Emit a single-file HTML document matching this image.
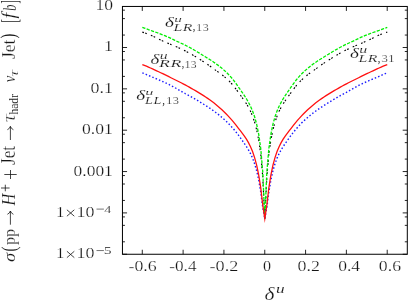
<!DOCTYPE html>
<html><head><meta charset="utf-8"><style>
html,body{margin:0;padding:0;background:#fff;}
svg{display:block}
text{font-family:"Liberation Serif",serif;fill:#151515;stroke:#fff;}
</style></head><body>
<svg width="409" height="300" viewBox="0 0 409 300">
<rect width="409" height="300" fill="#fff"/>
<g fill="none" stroke-linejoin="bevel" stroke-linecap="butt">
<path d="M142.34,32.10 L144.38,32.79 L146.42,33.52 L148.46,34.28 L150.50,35.08 L152.55,35.95 L154.59,36.91 L156.63,37.93 L158.67,38.96 L160.71,39.97 L162.75,40.92 L164.79,41.83 L166.83,42.73 L168.87,43.62 L170.91,44.49 L172.96,45.34 L175.00,46.19 L177.04,47.06 L179.08,47.96 L181.12,48.89 L183.16,49.86 L185.20,50.87 L187.24,51.92 L189.28,53.04 L191.32,54.19 L193.37,55.38 L195.41,56.61 L197.45,57.88 L199.49,59.17 L201.53,60.47 L203.57,61.78 L205.61,63.11 L207.65,64.49 L209.69,65.94 L211.73,67.43 L213.78,68.93 L215.82,70.40 L217.86,71.82 L219.90,73.25 L221.94,74.75 L223.98,76.36 L226.02,78.08 L228.06,79.95 L230.10,82.00 L232.14,84.26 L234.19,86.72 L236.23,89.38 L238.27,92.17 L240.31,95.02 L242.35,97.86 L244.39,100.72 L246.43,103.78 L248.47,107.24 L250.51,111.28 L252.55,116.13 L254.59,122.13 L256.64,129.75 L258.68,139.77 L260.72,153.95 L262.76,177.40 L264.80,218.70 L266.84,177.40 L268.88,153.95 L270.92,139.77 L272.96,129.75 L275.00,122.13 L277.05,116.13 L279.09,111.28 L281.13,107.24 L283.17,103.78 L285.21,100.72 L287.25,97.86 L289.29,95.02 L291.33,92.17 L293.37,89.38 L295.42,86.72 L297.46,84.26 L299.50,82.00 L301.54,79.95 L303.58,78.08 L305.62,76.36 L307.66,74.75 L309.70,73.25 L311.74,71.82 L313.78,70.40 L315.82,68.93 L317.87,67.43 L319.91,65.94 L321.95,64.49 L323.99,63.11 L326.03,61.78 L328.07,60.47 L330.11,59.17 L332.15,57.88 L334.19,56.61 L336.24,55.38 L338.28,54.19 L340.32,53.04 L342.36,51.92 L344.40,50.87 L346.44,49.86 L348.48,48.89 L350.52,47.96 L352.56,47.06 L354.60,46.19 L356.64,45.34 L358.69,44.49 L360.73,43.62 L362.77,42.73 L364.81,41.83 L366.85,40.92 L368.89,39.97 L370.93,38.96 L372.97,37.93 L375.01,36.91 L377.06,35.95 L379.10,35.08 L381.14,34.28 L383.18,33.52 L385.22,32.79 L387.26,32.10" stroke="#000" stroke-width="1.15" stroke-dasharray="1.7 1.3 1.7 4.4"/>
<path d="M142.34,27.34 L144.38,28.07 L146.42,28.84 L148.46,29.60 L150.50,30.33 L152.55,31.05 L154.59,31.77 L156.63,32.50 L158.67,33.26 L160.71,34.04 L162.75,34.85 L164.79,35.68 L166.83,36.54 L168.87,37.45 L170.91,38.42 L172.96,39.42 L175.00,40.41 L177.04,41.36 L179.08,42.28 L181.12,43.22 L183.16,44.17 L185.20,45.17 L187.24,46.21 L189.28,47.30 L191.32,48.42 L193.37,49.56 L195.41,50.74 L197.45,51.94 L199.49,53.18 L201.53,54.44 L203.57,55.72 L205.61,56.98 L207.65,58.24 L209.69,59.50 L211.73,60.81 L213.78,62.17 L215.82,63.60 L217.86,65.11 L219.90,66.70 L221.94,68.37 L223.98,70.13 L226.02,72.00 L228.06,74.01 L230.10,76.16 L232.14,78.49 L234.19,81.03 L236.23,83.80 L238.27,86.73 L240.31,89.67 L242.35,92.56 L244.39,95.55 L246.43,98.79 L248.47,102.34 L250.51,106.31 L252.55,110.95 L254.59,116.71 L256.64,124.16 L258.68,134.10 L260.72,148.29 L262.76,172.08 L264.80,218.70 L266.84,172.08 L268.88,148.29 L270.92,134.10 L272.96,124.16 L275.00,116.71 L277.05,110.95 L279.09,106.31 L281.13,102.34 L283.17,98.79 L285.21,95.55 L287.25,92.56 L289.29,89.67 L291.33,86.73 L293.37,83.80 L295.42,81.03 L297.46,78.49 L299.50,76.16 L301.54,74.01 L303.58,72.00 L305.62,70.13 L307.66,68.37 L309.70,66.70 L311.74,65.11 L313.78,63.60 L315.82,62.17 L317.87,60.81 L319.91,59.50 L321.95,58.24 L323.99,56.98 L326.03,55.72 L328.07,54.44 L330.11,53.18 L332.15,51.94 L334.19,50.74 L336.24,49.56 L338.28,48.42 L340.32,47.30 L342.36,46.21 L344.40,45.17 L346.44,44.17 L348.48,43.22 L350.52,42.28 L352.56,41.36 L354.60,40.41 L356.64,39.42 L358.69,38.42 L360.73,37.45 L362.77,36.54 L364.81,35.68 L366.85,34.85 L368.89,34.04 L370.93,33.26 L372.97,32.50 L375.01,31.77 L377.06,31.05 L379.10,30.33 L381.14,29.60 L383.18,28.84 L385.22,28.07 L387.26,27.34" stroke="#00ee00" stroke-width="1.3" stroke-dasharray="3.2 1.4"/>
<path d="M142.34,72.89 L144.38,73.67 L146.42,74.53 L148.46,75.42 L150.50,76.32 L152.55,77.21 L154.59,78.09 L156.63,78.95 L158.67,79.82 L160.71,80.70 L162.75,81.60 L164.79,82.51 L166.83,83.46 L168.87,84.45 L170.91,85.49 L172.96,86.58 L175.00,87.71 L177.04,88.86 L179.08,90.04 L181.12,91.22 L183.16,92.39 L185.20,93.51 L187.24,94.60 L189.28,95.71 L191.32,96.84 L193.37,97.99 L195.41,99.18 L197.45,100.40 L199.49,101.65 L201.53,102.93 L203.57,104.22 L205.61,105.51 L207.65,106.82 L209.69,108.16 L211.73,109.55 L213.78,111.00 L215.82,112.50 L217.86,114.06 L219.90,115.69 L221.94,117.40 L223.98,119.20 L226.02,121.10 L228.06,123.10 L230.10,125.22 L232.14,127.46 L234.19,129.81 L236.23,132.30 L238.27,134.94 L240.31,137.72 L242.35,140.61 L244.39,143.52 L246.43,146.55 L248.47,149.85 L250.51,153.62 L252.55,158.11 L254.59,163.65 L256.64,170.69 L258.68,179.81 L260.72,191.89 L262.76,207.54 L264.80,218.70 L266.84,207.54 L268.88,191.89 L270.92,179.81 L272.96,170.69 L275.00,163.65 L277.05,158.11 L279.09,153.62 L281.13,149.85 L283.17,146.55 L285.21,143.52 L287.25,140.61 L289.29,137.72 L291.33,134.94 L293.37,132.30 L295.42,129.81 L297.46,127.46 L299.50,125.22 L301.54,123.10 L303.58,121.10 L305.62,119.20 L307.66,117.40 L309.70,115.69 L311.74,114.06 L313.78,112.50 L315.82,111.00 L317.87,109.55 L319.91,108.16 L321.95,106.82 L323.99,105.51 L326.03,104.22 L328.07,102.93 L330.11,101.65 L332.15,100.40 L334.19,99.18 L336.24,97.99 L338.28,96.84 L340.32,95.71 L342.36,94.60 L344.40,93.51 L346.44,92.39 L348.48,91.22 L350.52,90.04 L352.56,88.86 L354.60,87.71 L356.64,86.58 L358.69,85.49 L360.73,84.45 L362.77,83.46 L364.81,82.51 L366.85,81.60 L368.89,80.70 L370.93,79.82 L372.97,78.95 L375.01,78.09 L377.06,77.21 L379.10,76.32 L381.14,75.42 L383.18,74.53 L385.22,73.67 L387.26,72.89" stroke="#1a1aff" stroke-width="1.4" stroke-dasharray="1.5 2.1"/>
<path d="M142.34,64.59 L144.38,65.36 L146.42,66.21 L148.46,67.10 L150.50,68.01 L152.55,68.93 L154.59,69.87 L156.63,70.83 L158.67,71.78 L160.71,72.74 L162.75,73.71 L164.79,74.68 L166.83,75.68 L168.87,76.69 L170.91,77.71 L172.96,78.73 L175.00,79.74 L177.04,80.74 L179.08,81.76 L181.12,82.79 L183.16,83.85 L185.20,84.94 L187.24,86.05 L189.28,87.18 L191.32,88.34 L193.37,89.51 L195.41,90.68 L197.45,91.88 L199.49,93.10 L201.53,94.36 L203.57,95.65 L205.61,96.99 L207.65,98.36 L209.69,99.79 L211.73,101.27 L213.78,102.82 L215.82,104.45 L217.86,106.15 L219.90,107.93 L221.94,109.79 L223.98,111.73 L226.02,113.76 L228.06,115.88 L230.10,118.09 L232.14,120.40 L234.19,122.82 L236.23,125.38 L238.27,128.03 L240.31,130.69 L242.35,133.33 L244.39,136.09 L246.43,139.14 L248.47,142.63 L250.51,146.70 L252.55,151.57 L254.59,157.58 L256.64,165.16 L258.68,174.87 L260.72,187.70 L262.76,204.98 L264.80,218.70 L266.84,204.98 L268.88,187.70 L270.92,174.87 L272.96,165.16 L275.00,157.58 L277.05,151.57 L279.09,146.70 L281.13,142.63 L283.17,139.14 L285.21,136.09 L287.25,133.33 L289.29,130.69 L291.33,128.03 L293.37,125.38 L295.42,122.82 L297.46,120.40 L299.50,118.09 L301.54,115.88 L303.58,113.76 L305.62,111.73 L307.66,109.79 L309.70,107.93 L311.74,106.15 L313.78,104.45 L315.82,102.82 L317.87,101.27 L319.91,99.79 L321.95,98.36 L323.99,96.99 L326.03,95.65 L328.07,94.36 L330.11,93.10 L332.15,91.88 L334.19,90.68 L336.24,89.51 L338.28,88.34 L340.32,87.18 L342.36,86.05 L344.40,84.94 L346.44,83.85 L348.48,82.79 L350.52,81.76 L352.56,80.74 L354.60,79.74 L356.64,78.73 L358.69,77.71 L360.73,76.69 L362.77,75.68 L364.81,74.68 L366.85,73.71 L368.89,72.74 L370.93,71.78 L372.97,70.83 L375.01,69.87 L377.06,68.93 L379.10,68.01 L381.14,67.10 L383.18,66.21 L385.22,65.36 L387.26,64.59" stroke="#ff1010" stroke-width="1.3" stroke-linejoin="miter" stroke-miterlimit="30"/>
</g>
<path d="M122.45,35.05h2.5 M407.3,35.05h-2.5 M122.45,18.60h2.5 M407.3,18.60h-2.5 M122.45,10.16h2.5 M407.3,10.16h-2.5 M122.45,47.50h4.6 M407.3,47.50h-4.6 M122.45,76.40h2.5 M407.3,76.40h-2.5 M122.45,59.95h2.5 M407.3,59.95h-2.5 M122.45,51.51h2.5 M407.3,51.51h-2.5 M122.45,88.85h4.6 M407.3,88.85h-4.6 M122.45,117.75h2.5 M407.3,117.75h-2.5 M122.45,101.30h2.5 M407.3,101.30h-2.5 M122.45,92.86h2.5 M407.3,92.86h-2.5 M122.45,130.20h4.6 M407.3,130.20h-4.6 M122.45,159.10h2.5 M407.3,159.10h-2.5 M122.45,142.65h2.5 M407.3,142.65h-2.5 M122.45,134.21h2.5 M407.3,134.21h-2.5 M122.45,171.55h4.6 M407.3,171.55h-4.6 M122.45,200.45h2.5 M407.3,200.45h-2.5 M122.45,184.00h2.5 M407.3,184.00h-2.5 M122.45,175.56h2.5 M407.3,175.56h-2.5 M122.45,212.90h4.6 M407.3,212.90h-4.6 M122.45,241.80h2.5 M407.3,241.80h-2.5 M122.45,225.35h2.5 M407.3,225.35h-2.5 M122.45,216.91h2.5 M407.3,216.91h-2.5 M122.45,254.25h4.6 M407.3,254.25h-4.6 M142.29,254.25v-4.5 M142.29,6.45v4.5 M183.11,254.25v-4.5 M183.11,6.45v4.5 M223.93,254.25v-4.5 M223.93,6.45v4.5 M264.75,254.25v-4.5 M264.75,6.45v4.5 M305.57,254.25v-4.5 M305.57,6.45v4.5 M346.39,254.25v-4.5 M346.39,6.45v4.5 M387.21,254.25v-4.5 M387.21,6.45v4.5 " stroke="#111" stroke-width="0.9" fill="none"/>
<rect x="122.45" y="6.45" width="284.85" height="247.8" fill="none" stroke="#000" stroke-width="1"/>
<path d="M66.9,209.80L74.3,216.20M74.3,209.80L66.9,216.20 M66.9,251.25L74.3,257.65M74.3,251.25L66.9,257.65 M10.4,224.7V211.0 M7.4,214.3Q9.8,213.2 10.4,211.0 Q11.0,213.2 13.4,214.3 M10.4,140.0V126.4 M7.4,129.70000000000002Q9.8,128.6 10.4,126.4 Q11.0,128.6 13.4,129.70000000000002 M10.5,170V179 M4.3,174.5H16.7 M5.3,184.7V191.3 M1.0,188H9.6 " stroke="#151515" stroke-width="0.8" fill="none"/>
<path d="M96.5,209.10H103.9 M96.5,250.55H103.9 " stroke="#151515" stroke-width="0.6" fill="none"/>
<g opacity="0.995"><g transform="translate(95.43,10.00) scale(1.257,1.027)"><text font-size="14" stroke-width="0.190" >10</text></g>
<g transform="translate(103.89,50.80) scale(1.284,0.995)"><text font-size="14" stroke-width="0.190" >1</text></g>
<g transform="translate(90.46,93.00) scale(1.281,1.081)"><text font-size="14" stroke-width="0.190" >0.1</text></g>
<g transform="translate(82.07,134.20) scale(1.257,1.081)"><text font-size="14" stroke-width="0.190" >0.01</text></g>
<g transform="translate(73.58,175.60) scale(1.247,1.092)"><text font-size="14" stroke-width="0.190" >0.001</text></g>
<g transform="translate(56.28,216.50) scale(1.137,1.027)"><text font-size="14" stroke-width="0.190" >1</text></g>
<g transform="translate(76.60,216.80) scale(1.282,1.092)"><text font-size="14" stroke-width="0.190" >10</text></g>
<g transform="translate(104.25,212.50) scale(1.400,1.000)"><text font-size="10" stroke-width="0.120" >4</text></g>
<g transform="translate(56.28,257.95) scale(1.137,1.027)"><text font-size="14" stroke-width="0.190" >1</text></g>
<g transform="translate(76.60,258.25) scale(1.282,1.092)"><text font-size="14" stroke-width="0.190" >10</text></g>
<g transform="translate(103.81,253.95) scale(1.575,1.000)"><text font-size="10" stroke-width="0.120" >5</text></g>
<g transform="translate(128.56,270.90) scale(1.271,1.038)"><text font-size="14" stroke-width="0.190" >-0.6</text></g>
<g transform="translate(169.29,270.90) scale(1.228,1.038)"><text font-size="14" stroke-width="0.190" >-0.4</text></g>
<g transform="translate(209.55,270.90) scale(1.301,1.038)"><text font-size="14" stroke-width="0.190" >-0.2</text></g>
<g transform="translate(263.12,270.90) scale(1.150,1.038)"><text font-size="14" stroke-width="0.190" >0</text></g>
<g transform="translate(297.46,270.90) scale(1.280,1.038)"><text font-size="14" stroke-width="0.190" >0.2</text></g>
<g transform="translate(338.17,270.90) scale(1.254,1.038)"><text font-size="14" stroke-width="0.190" >0.4</text></g>
<g transform="translate(378.87,270.90) scale(1.267,1.038)"><text font-size="14" stroke-width="0.190" >0.6</text></g>
<g transform="translate(164.92,26.80) scale(1.360,1.097)"><text font-size="14" font-style="italic" stroke-width="0.110" >δ</text></g>
<g transform="translate(174.34,21.57) scale(1.525,0.926)"><text font-size="10" font-style="italic" stroke-width="0.130" >u</text></g>
<g transform="translate(173.40,30.60) scale(1.583,1.000)"><text font-size="10" font-style="italic" stroke-width="0.130" letter-spacing="0.3">LR</text></g>
<g transform="translate(192.64,30.34) scale(1.029,1.240)"><text font-size="10" stroke-width="0.030" >,</text></g>
<g transform="translate(196.12,30.80) scale(1.261,1.046)"><text font-size="10" stroke="#151515" stroke-width="0.220" >13</text></g>
<g transform="translate(150.43,63.50) scale(1.344,1.108)"><text font-size="14" font-style="italic" stroke-width="0.110" >δ</text></g>
<g transform="translate(159.71,58.56) scale(1.575,0.947)"><text font-size="10" font-style="italic" stroke-width="0.130" >u</text></g>
<g transform="translate(159.10,67.20) scale(1.788,0.985)"><text font-size="10" font-style="italic" stroke-width="0.130" letter-spacing="0.3">RR</text></g>
<g transform="translate(181.76,67.18) scale(0.971,1.280)"><text font-size="10" stroke-width="0.030" >,</text></g>
<g transform="translate(184.47,67.50) scale(1.224,1.046)"><text font-size="10" stroke="#151515" stroke-width="0.220" >13</text></g>
<g transform="translate(136.32,100.10) scale(1.360,1.097)"><text font-size="14" font-style="italic" stroke-width="0.110" >δ</text></g>
<g transform="translate(145.29,94.77) scale(1.625,0.905)"><text font-size="10" font-style="italic" stroke-width="0.130" >u</text></g>
<g transform="translate(145.10,103.90) scale(1.418,1.000)"><text font-size="10" font-style="italic" stroke-width="0.130" letter-spacing="0.3">LL</text></g>
<g transform="translate(162.23,103.88) scale(1.086,1.280)"><text font-size="10" stroke-width="0.030" >,</text></g>
<g transform="translate(166.08,104.20) scale(1.297,1.062)"><text font-size="10" stroke="#151515" stroke-width="0.220" >13</text></g>
<g transform="translate(349.92,58.20) scale(1.360,1.108)"><text font-size="14" font-style="italic" stroke-width="0.110" >δ</text></g>
<g transform="translate(359.30,52.96) scale(1.600,0.947)"><text font-size="10" font-style="italic" stroke-width="0.130" >u</text></g>
<g transform="translate(358.40,61.90) scale(1.583,0.985)"><text font-size="10" font-style="italic" stroke-width="0.130" letter-spacing="0.3">LR</text></g>
<g transform="translate(377.64,61.64) scale(1.029,1.240)"><text font-size="10" stroke-width="0.030" >,</text></g>
<g transform="translate(381.33,62.20) scale(1.337,1.046)"><text font-size="10" stroke="#151515" stroke-width="0.220" >31</text></g>
<g transform="translate(264.45,299.70) scale(1.127,1.011)"><text font-size="19" font-style="italic" stroke-width="0.203" >δ</text></g>
<g transform="translate(275.98,293.35) scale(1.440,1.009)"><text font-size="12" font-style="italic" stroke-width="0.081" >u</text></g>
<g transform="translate(15.30,261.97) rotate(-90) scale(1.333,1.186)"><text font-size="14" font-style="italic" stroke-width="0.110" >σ</text></g>
<g transform="translate(15.51,251.53) rotate(-90) scale(1.067,1.496)"><text font-size="14" stroke-width="0.060" >(</text></g>
<g transform="translate(15.10,244.99) rotate(-90) scale(1.154,1.200)"><text font-size="14" stroke-width="0.190" >pp</text></g>
<g transform="translate(15.00,205.60) rotate(-90) scale(1.171,1.405)"><text font-size="14" font-style="italic" stroke-width="0.110" >H</text></g>
<g transform="translate(15.30,165.01) rotate(-90) scale(1.226,1.433)"><text font-size="14" stroke-width="0.190" >Jet</text></g>
<g transform="translate(14.80,122.20) rotate(-90) scale(1.600,1.296)"><text font-size="14" font-style="italic" stroke-width="0.300" >τ</text></g>
<g transform="translate(17.88,114.60) rotate(-90) scale(1.161,1.269)"><text font-size="10" stroke-width="0.030" >hadr</text></g>
<g transform="translate(14.70,82.26) rotate(-90) scale(1.050,1.231)"><text font-size="14" font-style="italic" stroke-width="0.110" >ν</text></g>
<g transform="translate(18.00,76.64) rotate(-90) scale(1.877,1.333)"><text font-size="10" font-style="italic" stroke-width="0.200" >τ</text></g>
<g transform="translate(15.00,59.01) rotate(-90) scale(1.252,1.400)"><text font-size="14" stroke-width="0.190" >Jet</text></g>
<g transform="translate(15.24,38.51) rotate(-90) scale(1.029,1.488)"><text font-size="14" stroke-width="0.060" >)</text></g>
<g transform="translate(16.85,22.54) rotate(-90) scale(0.738,1.626)"><text font-size="14" stroke-width="0.060" >[</text></g>
<g transform="translate(15.05,18.55) rotate(-90) scale(1.410,1.318)"><text font-size="14" font-style="italic" stroke-width="0.110" >f</text></g>
<g transform="translate(15.60,10.83) rotate(-90) scale(0.867,1.405)"><text font-size="14" font-style="italic" stroke-width="0.110" >b</text></g>
<g transform="translate(16.85,3.87) rotate(-90) scale(0.738,1.626)"><text font-size="14" stroke-width="0.060" >]</text></g>
</g>
</svg>
</body></html>
